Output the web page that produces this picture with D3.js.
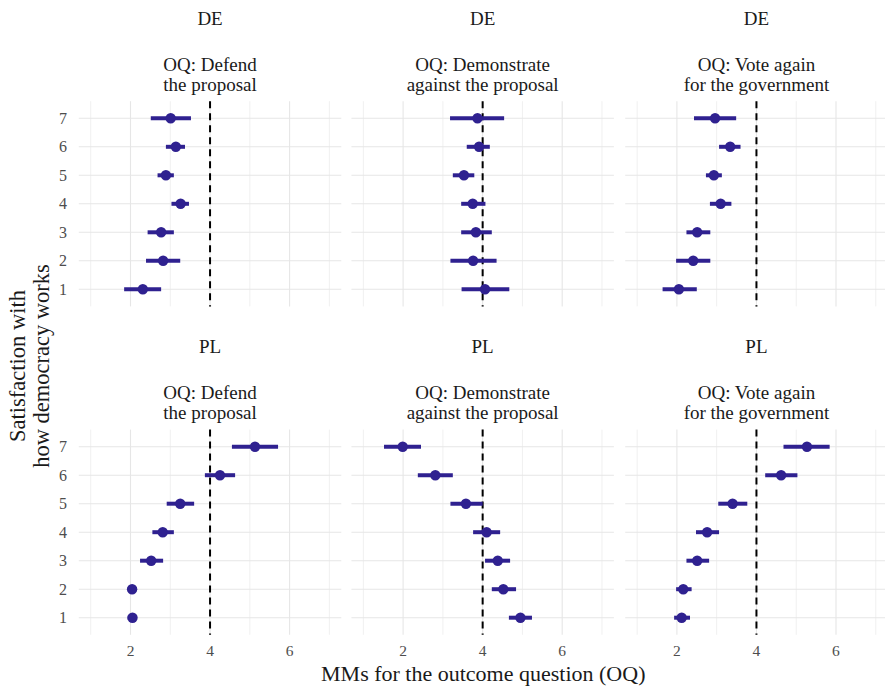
<!doctype html>
<html lang="en">
<head>
    <meta charset="utf-8">
    <title>MMs by satisfaction with democracy</title>
    <script src="https://d3js.org/d3.v7.min.js"></script>
    <style>
        body { margin: 0; background: #fff; }
        svg text { font-family: "Liberation Serif", "Times New Roman", Times, serif; }
    </style>
</head>
<body>
    <div id="my_dataviz"></div>

    <script>
        // satisfaction levels (y axis) and tick values (x axis)
        var levels = [1, 2, 3, 4, 5, 6, 7]
        var xTicks = [2, 4, 6]
        var countries = ["DE", "PL"]
        var questions = ["OQ: Defend|the proposal", "OQ: Demonstrate|against the proposal", "OQ: Vote again|for the government"]

        // marginal means, lower and upper bounds, ordered by level 1..7
        var deDefendEst = [2.31, 2.82, 2.77, 3.26, 2.89, 3.14, 3.01]
        var deDefendLo  = [1.84, 2.39, 2.43, 3.03, 2.68, 2.89, 2.51]
        var deDefendHi  = [2.77, 3.25, 3.09, 3.47, 3.09, 3.37, 3.52]

        var deDemoEst = [4.06, 3.76, 3.83, 3.75, 3.53, 3.91, 3.87]
        var deDemoLo  = [3.47, 3.19, 3.46, 3.46, 3.25, 3.60, 3.18]
        var deDemoHi  = [4.67, 4.35, 4.23, 4.07, 3.79, 4.18, 4.54]

        var deVoteEst = [2.05, 2.41, 2.51, 3.10, 2.93, 3.34, 2.96]
        var deVoteLo  = [1.64, 1.98, 2.24, 2.83, 2.73, 3.06, 2.43]
        var deVoteHi  = [2.50, 2.84, 2.84, 3.37, 3.13, 3.60, 3.49]

        var plDefendEst = [2.05, 2.04, 2.52, 2.81, 3.25, 4.25, 5.13]
        var plDefendLo  = [1.93, 1.93, 2.24, 2.55, 2.91, 3.87, 4.55]
        var plDefendHi  = [2.16, 2.15, 2.82, 3.09, 3.60, 4.63, 5.71]

        var plDemoEst = [4.95, 4.52, 4.38, 4.10, 3.58, 2.81, 1.99]
        var plDemoLo  = [4.66, 4.23, 4.06, 3.76, 3.19, 2.37, 1.52]
        var plDemoHi  = [5.24, 4.84, 4.69, 4.44, 4.00, 3.25, 2.45]

        var plVoteEst = [2.12, 2.16, 2.51, 2.76, 3.40, 4.62, 5.27]
        var plVoteLo  = [1.93, 1.98, 2.24, 2.48, 3.04, 4.22, 4.68]
        var plVoteHi  = [2.33, 2.37, 2.81, 3.06, 3.77, 5.03, 5.84]

        var refLine = 4

        var panelData = [
            [[deDefendEst, deDefendLo, deDefendHi], [deDemoEst, deDemoLo, deDemoHi], [deVoteEst, deVoteLo, deVoteHi]],
            [[plDefendEst, plDefendLo, plDefendHi], [plDemoEst, plDemoLo, plDemoHi], [plVoteEst, plVoteLo, plVoteHi]]
        ]

        // layout
        var width = 885, height = 689
        var panelLefts = [78.8, 351.4, 625.2]
        var panelW = 262.5
        var panelTops = [101.2, 429.6]
        var panelH = 205.2
        var col = "#2f2190"
        var serif = "'Liberation Serif', 'Times New Roman', Times, serif"

        var svg = d3.select("#my_dataviz")
            .append("svg")
            .attr("width", width)
            .attr("height", height)
            .attr("font-family", serif)

        panelTops.forEach(function (top, r) {
            panelLefts.forEach(function (left, c) {
                var x = d3.scaleLinear().domain([0.7, 7.3]).range([left, left + panelW])
                var y = d3.scaleLinear().domain([0.4, 7.6]).range([top + panelH, top])
                var g = svg.append("g")

                // minor grid
                g.selectAll(".minor")
                    .data([1, 3, 5, 7])
                    .enter().append("line")
                    .attr("x1", d => x(d)).attr("x2", d => x(d))
                    .attr("y1", top).attr("y2", top + panelH)
                    .attr("stroke", "#f0f0f0").attr("stroke-width", 1)
                // major grid
                g.selectAll(".majorx")
                    .data(xTicks)
                    .enter().append("line")
                    .attr("x1", d => x(d)).attr("x2", d => x(d))
                    .attr("y1", top).attr("y2", top + panelH)
                    .attr("stroke", "#e6e6e6").attr("stroke-width", 1.1)
                g.selectAll(".majory")
                    .data(levels)
                    .enter().append("line")
                    .attr("x1", left).attr("x2", left + panelW)
                    .attr("y1", d => y(d)).attr("y2", d => y(d))
                    .attr("stroke", "#e6e6e6").attr("stroke-width", 1.1)

                // reference line
                g.append("line")
                    .attr("x1", x(refLine)).attr("x2", x(refLine))
                    .attr("y1", top).attr("y2", top + panelH)
                    .attr("stroke", "black").attr("stroke-width", 2)
                    .attr("stroke-dasharray", "7,5")

                var arr = panelData[r][c]
                var rows = levels.map((l, i) => ({ level: l, est: arr[0][i], lo: arr[1][i], hi: arr[2][i] }))

                g.selectAll(".ci")
                    .data(rows)
                    .enter().append("line")
                    .attr("x1", d => x(d.lo)).attr("x2", d => x(d.hi))
                    .attr("y1", d => y(d.level)).attr("y2", d => y(d.level))
                    .attr("stroke", col).attr("stroke-width", 4)
                g.selectAll(".pt")
                    .data(rows)
                    .enter().append("circle")
                    .attr("cx", d => x(d.est)).attr("cy", d => y(d.level))
                    .attr("r", 5.2)
                    .attr("fill", col)

                // strip labels
                var cx = left + panelW / 2
                g.append("text")
                    .attr("x", cx).attr("y", top - 76.5)
                    .attr("text-anchor", "middle")
                    .style("font-size", "19px").attr("fill", "#1a1a1a")
                    .text(countries[r])
                var q = questions[c].split("|")
                g.append("text")
                    .attr("x", cx).attr("y", top - 30.5)
                    .attr("text-anchor", "middle")
                    .style("font-size", "19px").attr("fill", "#1a1a1a")
                    .text(q[0])
                g.append("text")
                    .attr("x", cx).attr("y", top - 10.5)
                    .attr("text-anchor", "middle")
                    .style("font-size", "19px").attr("fill", "#1a1a1a")
                    .text(q[1])

                // y tick labels on first column
                if (c === 0) {
                    g.selectAll(".ytick")
                        .data(levels)
                        .enter().append("text")
                        .attr("x", 67).attr("y", d => y(d))
                        .attr("dy", "0.35em")
                        .attr("text-anchor", "end")
                        .style("font-size", "16px").attr("fill", "#4d4d4d")
                        .text(d => d)
                }
                // x tick labels on bottom row
                if (r === 1) {
                    g.selectAll(".xtick")
                        .data(xTicks)
                        .enter().append("text")
                        .attr("x", d => x(d)).attr("y", 656)
                        .attr("text-anchor", "middle")
                        .style("font-size", "15.5px").attr("fill", "#4d4d4d")
                        .text(d => d)
                }
            })
        })

        // axis titles
        svg.append("text")
            .attr("x", (panelLefts[0] + panelLefts[2] + panelW) / 2).attr("y", 681)
            .attr("text-anchor", "middle")
            .style("font-size", "22px").attr("fill", "#1a1a1a")
            .text("MMs for the outcome question (OQ)")

        var yt = svg.append("text")
            .attr("transform", "translate(0,366) rotate(-90)")
            .attr("text-anchor", "middle")
            .style("font-size", "22.5px").attr("fill", "#1a1a1a")
        yt.append("tspan").attr("x", 0).attr("y", 25).text("Satisfaction with")
        yt.append("tspan").attr("x", 0).attr("y", 49).text("how democracy works")
    </script>
</body>
</html>
